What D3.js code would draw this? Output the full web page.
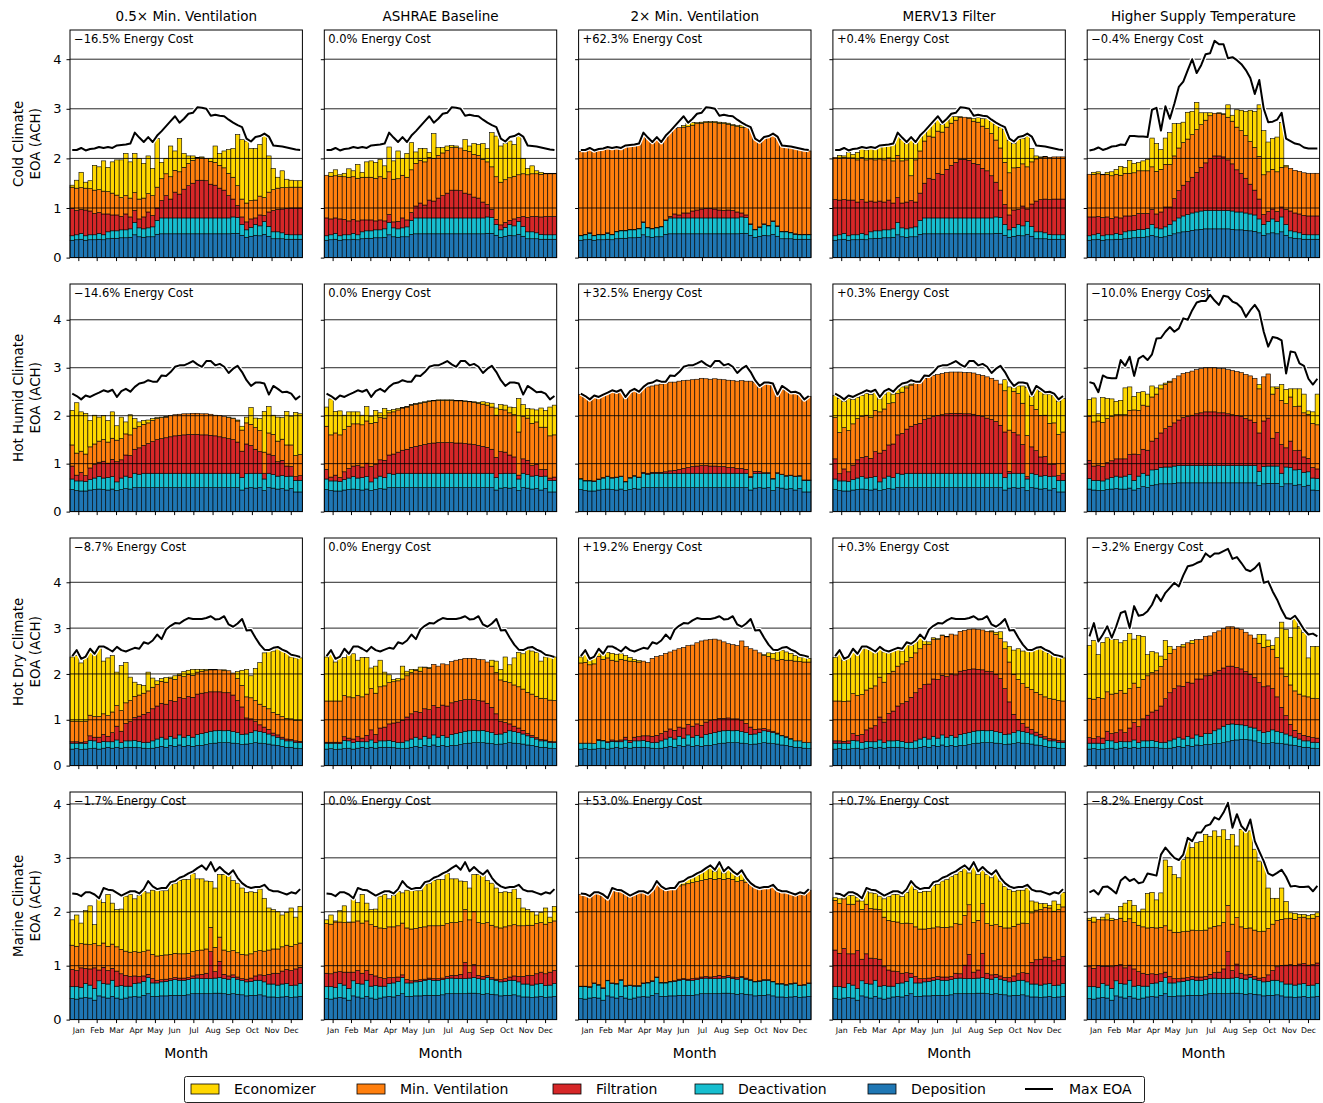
<!DOCTYPE html>
<html lang="en">
<head>
<meta charset="utf-8">
<title>Equivalent outdoor air by climate and strategy</title>
<script src="https://cdn.jsdelivr.net/npm/d3@7"></script>
<style>
  body { margin: 0; background: #fff; }
  svg text { font-family: "DejaVu Sans", sans-serif; fill: #000; }
</style>
</head>
<body>
<svg id="chart" width="1323" height="1103"></svg>
<script>
// weekly EOA components, in hundredths of ACH (52 weeks each)

const scenarios = ['0.5\u00d7 Min. Ventilation', 'ASHRAE Baseline', '2\u00d7 Min. Ventilation', 'MERV13 Filter', 'Higher Supply Temperature'];
const climates = ['Cold Climate', 'Hot Humid Climate', 'Hot Dry Climate', 'Marine Climate'];
const months = ['Jan','Feb','Mar','Apr','May','Jun','Jul','Aug','Sep','Oct','Nov','Dec'];
const monthTicks = [1.86, 5.97, 10.3, 14.7, 19.0, 23.3, 27.6, 31.9, 36.3, 40.7, 45.1, 49.4]; // in weeks
const yTicks = [0, 1, 2, 3, 4];

const costCold   = ['\u221216.5%', '0.0%', '+62.3%', '+0.4%', '\u22120.4%'];
const costHumid  = ['\u221214.6%', '0.0%', '+32.5%', '+0.3%', '\u221210.0%'];
const costDry    = ['\u22128.7%', '0.0%', '+19.2%', '+0.3%', '\u22123.2%'];
const costMarine = ['\u22121.7%', '0.0%', '+53.0%', '+0.7%', '\u22128.2%'];

// ---------- cold ----------
const depCold = [35,36,37,35,36,36,37,36,38,39,39,40,40,41,46,42,41,42,42,47,48,48,48,48,48,48,48,48,48,48,48,48,48,48,48,48,49,49,45,41,43,45,44,47,43,38,38,38,37,37,37,37];
const deactCold = [9,10,12,9,10,10,12,10,14,15,15,16,16,17,25,18,17,18,20,28,32,32,32,32,32,32,32,32,32,32,32,32,32,32,32,32,33,32,22,15,18,22,20,26,20,14,14,12,10,9,9,9];
const maxCold = [217,217,221,216,219,220,223,221,223,221,226,227,228,230,252,242,233,243,233,246,255,265,275,285,272,280,290,292,303,302,300,286,288,286,285,278,272,267,263,240,234,243,245,250,244,226,225,224,222,220,218,217];

const filtCold05 = [55,49,48,52,48,43,42,42,36,32,32,27,32,24,24,18,24,32,23,25,35,45,38,52,48,58,65,70,76,76,75,68,66,60,56,45,36,24,15,16,17,13,22,12,29,43,45,48,52,54,54,54];
const mvCold05 = [43,45,44,44,45,47,46,46,45,44,40,38,37,38,36,40,38,37,40,42,44,44,45,44,45,44,45,46,45,45,45,46,46,46,45,45,44,40,36,38,37,36,38,36,40,42,43,43,42,42,42,42];
const econCold05 = [4,16,31,12,16,50,46,61,49,63,71,76,85,73,79,82,70,76,55,98,33,31,62,39,67,28,15,9,1,2,0,6,33,24,34,48,58,103,120,125,105,104,104,129,73,43,22,34,17,14,13,13];

const filtCold1 = [36,32,31,34,31,28,28,28,24,22,22,18,20,16,16,12,15,20,14,16,24,30,26,36,34,40,45,50,56,56,55,50,48,42,40,32,25,16,10,10,10,8,14,8,20,29,31,33,35,37,37,37];
const mvCold1 = [86,86,85,86,86,88,86,86,86,86,86,86,87,86,86,86,86,86,86,86,86,86,87,86,86,86,86,86,86,86,86,86,86,86,86,86,86,86,86,86,86,86,86,86,86,86,86,86,86,86,86,86];
const econCold1 = [0,8,12,3,7,17,12,28,10,31,33,32,35,25,50,37,56,34,48,55,23,24,27,10,50,16,11,9,4,3,0,22,11,22,22,32,27,69,82,73,73,74,64,78,31,13,16,6,4,1,1,1];

const filtCold2 = [1,1,1,1,1,1,1,1,1,1,1,1,1,1,1,1,1,1,1,1,3,8,6,10,10,14,16,18,19,19,18,16,15,16,15,12,8,5,1,1,1,1,1,1,1,1,1,1,1,1,1,1];
const mvCold2 = [169,168,168,169,170,171,171,172,168,164,169,168,169,169,178,179,172,179,168,168,169,172,176,173,174,173,174,173,173,173,174,175,175,173,171,172,173,176,192,181,170,173,178,174,178,171,170,171,172,171,169,168];
const econCold2 = [0,0,0,0,0,0,0,0,0,0,0,0,0,0,0,0,0,0,0,0,0,0,0,3,6,5,2,2,2,2,2,2,2,2,2,2,4,3,0,0,0,0,0,0,0,0,0,0,0,0,0,0];

const filtColdM = [73,70,68,72,70,66,68,66,62,58,60,56,60,52,50,50,54,55,50,55,70,80,78,90,88,98,106,112,118,118,116,110,108,100,95,85,70,55,40,30,35,30,40,25,45,62,65,68,70,72,72,72];
const mvColdM = [85,85,85,85,85,85,85,85,85,85,85,85,85,85,85,85,85,50,85,85,85,85,85,85,85,85,85,85,85,85,85,85,85,85,85,85,85,85,85,85,85,85,85,85,85,85,85,85,85,85,85,85];
const econColdM = [0,5,3,11,7,15,18,20,21,21,23,27,25,33,41,43,33,75,33,29,17,17,27,25,15,13,13,7,1,0,1,5,9,15,20,24,31,42,66,65,49,56,51,62,27,6,1,1,0,0,0,0];

const depColdH = [35,36,37,35,36,36,37,37,38,39,40,41,41,42,45,42,41,42,45,48,50,52,53,55,56,57,58,58,58,58,58,58,57,56,56,55,54,53,50,45,48,50,48,52,45,40,39,38,37,37,37,37];
const deactColdH = [9,10,12,9,10,10,12,10,14,15,15,16,16,17,22,18,17,20,22,26,30,32,34,35,36,37,37,37,37,37,37,37,37,36,36,35,34,33,28,22,25,28,25,30,22,14,13,12,10,9,9,9];
const filtColdH = [38,36,34,37,36,33,33,33,32,30,30,32,32,30,30,28,34,40,35,45,55,62,66,72,80,88,96,105,110,110,108,102,95,85,78,70,60,50,40,20,20,20,20,20,30,40,38,38,38,38,38,38];
const mvColdH = [86,86,86,86,86,86,86,86,86,86,86,86,86,86,86,86,86,86,86,86,86,86,86,86,86,86,86,86,86,86,86,86,86,86,86,86,86,86,86,80,80,80,80,80,86,86,86,86,86,86,86,86];
const econColdH = [0,4,4,1,4,8,10,18,12,26,19,17,20,23,58,56,40,53,64,65,49,41,54,47,55,24,15,6,0,1,1,25,12,35,41,49,63,73,104,89,60,62,70,90,3,0,0,0,0,0,0,0];
const maxColdH = [216,218,222,217,220,224,225,228,227,245,245,244,244,243,298,302,256,305,280,310,344,355,378,400,372,388,410,412,437,430,430,402,404,398,390,378,362,330,358,300,273,274,278,292,240,235,230,228,222,220,220,220];

// ---------- hot humid ----------
const depHumid = [46,44,43,43,45,46,47,46,45,47,44,46,48,47,50,50,50,50,50,50,50,50,50,50,50,50,50,50,50,50,50,50,50,50,50,50,50,50,45,49,50,49,50,44,50,49,47,48,45,48,41,41];
const deactHumid = [22,20,21,20,22,24,26,24,26,26,18,24,26,24,30,28,30,30,30,30,30,30,30,30,30,30,30,30,30,30,30,30,30,30,30,30,30,30,26,30,30,31,30,24,30,28,27,27,28,26,24,24];
const maxHumid = [246,241,234,242,239,244,248,253,250,254,239,251,256,250,260,267,269,274,271,271,284,283,291,302,305,305,309,314,307,302,314,314,305,308,302,289,298,304,291,274,262,269,269,267,244,262,256,249,250,246,234,241];

const filtHumid05 = [27,12,18,12,24,28,30,35,30,36,42,38,44,46,50,55,58,62,66,70,72,74,76,78,79,80,81,81,81,80,80,79,78,76,74,72,70,65,55,62,58,50,45,12,40,40,30,32,22,20,8,10];
const mvHumid05 = [44,46,44,45,44,43,44,45,44,44,45,44,44,43,44,44,44,43,44,44,44,43,44,44,44,44,43,44,44,44,44,44,43,44,44,44,44,44,44,44,44,45,44,44,44,44,43,44,44,45,44,44];
const econHumid05 = [72,105,82,85,55,60,50,50,45,55,30,45,25,42,20,10,8,6,4,2,1,1,0,0,0,0,0,0,0,0,0,0,0,0,0,1,1,2,8,12,35,20,25,85,55,40,50,45,70,60,90,85];

const filtHumid1 = [20,8,12,8,16,20,22,26,22,28,32,28,34,36,38,42,44,48,50,54,56,58,60,62,63,64,64,64,64,63,63,62,61,60,58,56,54,50,42,46,44,38,34,8,30,30,22,24,15,14,5,7];
const mvHumid1 = [90,88,88,89,88,88,88,87,88,88,90,88,88,88,88,88,88,88,88,88,88,88,88,88,88,88,88,88,88,88,88,88,88,88,88,88,88,88,88,88,88,88,88,90,88,88,88,88,88,88,88,88];
const econHumid1 = [40,75,45,50,30,30,25,25,20,30,15,25,10,20,5,5,3,1,1,1,1,1,1,1,1,1,1,1,1,1,1,1,1,1,2,5,5,8,15,10,10,12,15,70,25,20,30,25,40,35,60,62];

const filtHumid2 = [1,1,1,1,1,1,1,1,1,1,1,1,1,1,2,2,2,2,2,3,5,6,8,10,12,14,15,16,16,15,15,14,14,12,12,10,10,8,2,5,4,1,1,1,1,1,1,1,1,1,1,1];
const mvHumid2 = [175,175,169,176,170,171,172,179,176,178,175,179,179,178,176,180,180,182,184,185,185,184,184,183,182,181,181,182,181,181,182,182,181,182,181,182,183,184,199,186,176,186,186,196,161,182,179,172,174,170,166,174];
const econHumid2 = [0,0,0,0,0,0,0,0,0,0,0,0,0,0,0,0,0,0,0,0,0,0,0,0,0,0,0,0,0,0,0,0,0,0,0,0,0,0,0,0,0,0,0,0,0,0,0,0,0,0,0,0];

const filtHumidM = [42,15,25,20,30,38,40,45,40,52,60,58,65,70,80,85,92,98,102,104,112,115,118,120,122,124,125,125,125,124,124,123,120,118,115,112,108,100,95,5,85,80,60,5,55,50,40,40,25,25,10,15];
const mvHumidM = [86,86,86,86,86,86,86,86,86,86,86,86,86,86,86,86,86,86,86,86,86,86,86,86,86,86,86,86,86,86,86,86,86,86,86,86,86,86,86,86,86,86,86,86,86,86,86,86,86,86,86,86];
const econHumidM = [46,71,55,67,51,44,43,45,47,37,27,31,25,18,8,11,4,2,1,0,0,0,0,0,0,0,0,0,0,0,0,0,0,0,0,0,0,0,23,90,7,16,36,100,19,42,50,44,61,57,69,70];

const depHumidH = [47,45,44,44,46,47,48,47,47,49,45,48,52,50,55,56,58,58,58,59,60,60,60,60,60,60,60,60,60,60,60,60,60,60,60,60,60,60,54,58,59,59,59,52,58,58,55,56,52,55,45,44];
const deactHumidH = [22,20,21,20,22,24,26,25,27,28,20,26,28,26,32,32,34,35,35,36,36,36,36,36,36,36,36,36,36,36,36,36,36,36,36,36,36,36,30,36,36,36,36,28,35,34,32,32,30,28,25,25];
const filtHumidH = [38,30,32,30,34,35,36,38,36,42,55,45,50,52,60,65,72,80,85,90,95,100,102,105,108,110,112,112,112,110,110,108,106,104,102,98,95,90,80,95,100,58,70,60,40,55,40,40,32,28,22,20];
const mvHumidH = [92,92,92,92,92,92,92,92,92,92,92,92,92,92,92,92,92,92,92,92,92,92,92,92,92,92,92,92,92,92,92,92,92,92,92,92,92,92,92,92,92,92,92,92,92,92,92,92,92,92,92,92];
const econHumidH = [35,50,15,52,42,37,28,30,56,49,28,37,28,25,23,13,8,3,2,0,0,0,0,0,0,0,0,0,0,0,0,0,0,0,0,0,0,0,9,0,0,15,3,33,30,17,37,36,39,7,24,64];
const maxHumidH = [270,267,249,284,279,278,278,316,304,323,283,319,325,316,328,361,362,375,385,375,382,403,400,420,436,439,439,452,440,431,450,448,438,434,425,406,420,431,417,375,344,364,362,357,288,334,332,309,304,277,265,277];

// ---------- hot dry ----------
const depDry = [36,37,35,36,37,38,36,38,40,38,40,38,40,40,40,39,38,37,38,40,42,40,44,42,45,42,44,42,44,44,46,48,49,50,50,50,49,48,46,47,48,50,49,48,47,45,44,42,40,40,38,37];
const deactDry = [13,12,14,12,18,16,14,15,12,14,16,12,14,14,15,14,12,14,16,18,20,18,20,18,22,20,22,20,24,26,26,27,27,27,26,27,25,24,22,22,24,26,25,24,22,20,18,16,14,14,13,13];
const maxDry = [239,252,233,238,255,244,260,260,255,249,259,252,249,253,257,255,269,266,273,286,276,297,305,311,310,317,322,320,320,320,322,326,319,320,326,308,303,310,320,295,296,279,264,253,252,257,259,253,249,242,240,237];

const filtDry05 = [3,3,2,4,10,8,12,15,12,20,30,25,38,42,50,55,62,65,70,72,74,76,78,80,82,84,85,87,88,88,87,86,85,84,83,82,80,70,60,35,30,20,15,12,10,6,5,4,4,3,3,3];
const mvDry05 = [45,45,45,45,45,45,45,45,45,45,45,45,45,46,46,46,46,47,47,47,48,48,48,48,48,48,48,48,48,48,48,48,48,48,48,48,48,48,47,46,46,46,45,45,45,45,45,45,45,45,45,45];
const econDry05 = [140,143,128,138,140,136,150,115,126,123,73,98,88,51,31,23,17,41,20,8,6,10,3,8,3,11,9,13,6,4,3,1,1,0,2,0,0,15,33,60,48,70,91,117,127,134,145,144,143,135,136,137];

const filtDry1 = [2,2,2,3,8,6,8,10,8,14,22,18,28,30,36,40,45,48,52,55,56,58,60,62,64,65,66,68,69,70,70,69,68,67,66,64,62,55,45,28,22,15,12,10,8,5,4,3,3,2,2,2];
const mvDry1 = [90,90,90,90,90,90,90,90,90,90,90,90,90,90,90,90,90,90,90,90,90,90,90,90,90,90,90,90,90,90,90,90,90,90,90,90,90,90,90,90,90,90,90,90,90,90,90,90,90,90,90,90];
const econDry1 = [96,106,85,95,83,93,96,77,86,80,45,59,58,30,17,5,5,28,10,7,2,9,1,2,0,0,0,0,0,0,0,0,0,0,0,0,0,13,25,23,53,39,59,75,77,93,94,96,81,91,94,95];

const filtDry2 = [0,0,0,0,2,1,2,3,2,4,6,5,8,9,10,12,14,15,16,17,18,19,20,22,23,24,25,26,27,28,28,28,27,27,26,25,24,20,16,10,8,5,4,3,2,1,1,1,0,0,0,0];
const mvDry2 = [175,176,171,174,181,177,183,174,174,176,168,173,165,163,163,160,170,172,170,170,168,175,171,176,172,177,177,184,179,177,176,171,167,162,162,160,174,168,171,173,166,159,160,158,159,166,167,171,174,173,175,176];
const econDry2 = [13,25,10,15,12,10,12,15,15,12,10,8,5,3,0,0,0,0,0,0,0,0,0,0,0,0,0,0,0,0,0,0,0,0,0,0,0,0,0,0,0,2,8,12,18,20,18,15,12,10,10,8];

const filtDryM = [5,5,4,6,15,12,18,25,30,35,50,45,60,65,75,82,90,98,105,110,115,120,125,128,130,132,134,136,138,138,138,136,134,132,130,128,125,118,100,70,40,25,18,12,10,8,6,5,5,4,4,4];
const mvDryM = [87,87,87,87,87,87,87,87,87,87,87,87,87,87,87,87,87,87,87,87,87,87,87,87,87,87,87,87,87,87,87,87,87,87,87,87,87,87,87,87,87,87,87,87,87,87,87,87,87,87,87,87];
const econDryM = [95,107,90,94,95,89,102,92,83,72,62,66,45,44,36,28,38,26,24,25,8,5,3,2,1,1,0,0,0,0,0,0,0,0,0,2,5,15,15,34,53,67,71,80,84,96,100,100,99,95,96,94];

const depDryH = [36,37,35,36,37,38,36,38,40,38,40,38,40,40,40,39,38,37,38,40,42,40,44,42,45,44,46,46,48,48,50,52,55,56,57,57,56,54,50,48,48,50,49,48,47,45,44,42,40,40,38,37];
const deactDryH = [13,12,14,12,18,16,14,15,12,14,16,12,14,14,15,14,12,14,16,18,20,18,20,18,22,20,24,24,28,32,36,38,36,34,32,30,28,28,26,24,26,28,26,24,22,20,18,16,14,14,13,13];
const filtDryH = [12,10,14,12,20,16,22,25,20,30,38,35,48,56,62,68,80,95,105,110,112,115,118,120,122,125,126,127,128,128,127,127,126,124,122,118,115,110,105,100,100,90,75,55,40,25,15,12,12,10,10,10];
const mvDryH = [86,86,86,86,86,86,86,86,86,86,86,86,86,86,86,86,86,86,86,86,86,86,86,86,86,86,86,86,86,86,86,86,86,86,86,86,86,86,86,86,86,86,86,86,86,86,86,86,86,86,86,86];
const econDryH = [115,128,93,123,118,119,117,104,115,120,96,113,94,46,46,39,23,41,15,0,0,5,0,7,0,0,0,0,0,0,0,0,0,0,0,0,0,0,19,28,14,8,43,100,102,104,157,148,138,85,113,114];
const maxDryH = [282,311,271,286,304,279,304,333,337,300,348,327,329,337,351,373,359,377,388,399,391,415,435,437,442,446,463,455,463,463,468,473,451,455,442,428,424,431,442,399,402,380,362,340,322,320,327,313,297,286,288,282];

// ---------- marine ----------
const depMarine = [39,38,40,41,40,36,44,42,40,43,40,38,40,42,43,42,45,48,43,43,44,44,45,45,45,45,46,48,48,48,48,48,49,49,48,47,48,47,46,44,45,45,46,44,42,42,41,42,43,41,42,43];
const deactMarine = [22,23,20,26,24,22,28,25,26,30,22,25,22,20,24,26,26,30,25,25,26,27,28,29,28,28,28,28,29,28,28,28,28,29,28,28,30,28,27,26,26,28,27,26,24,24,23,24,24,22,22,24];
const maxMarine = [234,233,229,236,236,232,225,244,241,240,235,230,234,238,238,234,242,257,247,242,244,244,255,257,263,266,271,275,281,286,278,292,275,283,275,269,277,263,253,247,244,246,246,250,241,238,238,235,232,236,234,242];

const filtMarine05 = [32,30,36,28,30,38,20,30,25,22,28,22,20,18,14,12,10,6,8,5,4,4,3,4,4,4,4,5,6,8,10,50,12,30,8,6,5,4,3,5,6,8,10,12,18,20,22,24,26,28,30,30];
const mvMarine05 = [45,45,45,45,45,45,45,45,45,45,45,45,45,45,45,45,45,45,45,45,45,45,45,45,45,45,45,45,45,45,45,45,45,45,45,45,45,45,45,45,45,45,45,45,45,45,45,45,45,45,45,45];
const econMarine05 = [47,58,38,62,72,35,87,75,96,76,69,75,102,107,98,105,112,106,119,121,120,119,129,129,136,138,137,145,133,132,126,85,110,116,140,141,130,129,123,116,115,110,114,98,78,73,69,59,61,71,51,68];

const filtMarine1 = [25,24,28,22,24,30,16,24,20,18,22,18,16,14,11,10,8,5,6,4,3,3,2,3,3,3,3,4,5,6,8,30,10,24,6,5,4,3,2,4,5,6,8,10,14,16,18,19,21,22,24,24];
const mvMarine1 = [92,92,93,92,92,92,93,92,93,92,92,92,92,93,94,94,95,96,96,96,96,97,97,97,98,98,98,98,98,98,98,98,98,98,98,98,98,97,97,96,96,95,95,94,94,93,93,93,92,92,92,92];
const econMarine1 = [7,17,2,21,31,1,43,34,53,33,28,32,59,63,52,58,64,56,70,71,70,68,78,78,84,86,85,93,81,81,75,52,59,69,89,89,78,78,72,66,65,62,66,51,33,29,25,16,19,30,10,27];

const filtMarine2 = [1,1,1,1,1,1,1,1,1,1,1,1,1,1,1,1,1,1,1,1,1,1,2,2,2,3,3,3,3,3,4,6,3,4,3,3,2,2,1,1,1,1,1,1,1,1,1,1,1,1,1,1];
const mvMarine2 = [170,169,166,166,169,171,151,174,172,164,170,164,169,173,168,163,168,176,176,171,171,170,173,174,177,178,179,179,180,183,180,180,180,180,181,178,178,178,176,174,170,170,170,177,172,169,171,166,162,170,167,172];
const econMarine2 = [0,0,0,0,0,0,0,0,0,0,0,0,0,0,0,0,0,0,0,0,0,2,7,7,10,10,12,15,18,20,15,25,12,18,12,10,15,5,2,0,0,0,0,0,0,0,0,0,0,0,0,0];

const filtMarineM = [68,62,72,55,58,70,40,55,48,40,50,35,30,28,22,18,16,8,12,8,6,6,5,6,6,6,6,10,8,25,45,12,15,45,10,8,6,6,5,8,10,12,14,16,40,45,48,50,48,46,48,50];
const mvMarineM = [92,92,92,92,92,92,92,92,92,92,92,92,92,92,92,92,92,92,92,92,92,92,92,92,92,92,92,92,92,92,92,92,92,92,92,92,92,92,92,92,92,92,92,92,92,92,92,92,92,92,92,92];
const econMarineM = [5,9,2,16,16,6,16,24,29,29,25,34,44,50,51,50,57,73,69,68,70,69,79,79,86,89,93,91,98,87,59,106,85,62,91,88,95,84,77,71,65,63,61,66,22,15,11,7,5,19,10,27];

const filtMarineH = [37,34,40,32,35,40,28,35,30,28,32,26,24,22,18,16,14,10,12,8,6,6,5,6,6,6,6,8,10,12,18,50,14,25,10,8,6,5,4,8,12,18,25,30,35,36,36,37,37,38,38,38];
const mvMarineH = [86,86,86,86,86,86,86,86,86,86,86,86,86,86,86,86,86,86,86,86,86,86,86,86,86,86,86,86,86,86,86,86,86,86,86,86,86,86,86,86,86,86,86,86,86,86,86,86,86,86,86,86];
const econMarineH = [4,9,0,5,11,4,0,22,34,34,32,25,33,64,65,52,64,122,118,107,101,134,171,153,163,165,177,170,177,166,172,122,166,133,181,181,180,150,131,128,75,48,41,58,32,10,11,6,5,6,7,7];
const maxMarineH = [236,240,232,246,247,241,234,258,265,257,261,253,255,271,269,267,306,319,309,300,296,306,337,331,347,347,359,362,375,371,384,402,356,381,359,350,371,331,312,294,271,267,272,278,265,247,248,246,246,247,238,248];

// ---------- panel table (rows = climates, columns = scenarios) ----------
const grid = [
  [
    {dep: depCold, deact: deactCold, filt: filtCold05, mv: mvCold05, econ: econCold05, max: maxCold, cost: costCold[0]},
    {dep: depCold, deact: deactCold, filt: filtCold1, mv: mvCold1, econ: econCold1, max: maxCold, cost: costCold[1]},
    {dep: depCold, deact: deactCold, filt: filtCold2, mv: mvCold2, econ: econCold2, max: maxCold, cost: costCold[2]},
    {dep: depCold, deact: deactCold, filt: filtColdM, mv: mvColdM, econ: econColdM, max: maxCold, cost: costCold[3]},
    {dep: depColdH, deact: deactColdH, filt: filtColdH, mv: mvColdH, econ: econColdH, max: maxColdH, cost: costCold[4]}
  ],
  [
    {dep: depHumid, deact: deactHumid, filt: filtHumid05, mv: mvHumid05, econ: econHumid05, max: maxHumid, cost: costHumid[0]},
    {dep: depHumid, deact: deactHumid, filt: filtHumid1, mv: mvHumid1, econ: econHumid1, max: maxHumid, cost: costHumid[1]},
    {dep: depHumid, deact: deactHumid, filt: filtHumid2, mv: mvHumid2, econ: econHumid2, max: maxHumid, cost: costHumid[2]},
    {dep: depHumid, deact: deactHumid, filt: filtHumidM, mv: mvHumidM, econ: econHumidM, max: maxHumid, cost: costHumid[3]},
    {dep: depHumidH, deact: deactHumidH, filt: filtHumidH, mv: mvHumidH, econ: econHumidH, max: maxHumidH, cost: costHumid[4]}
  ],
  [
    {dep: depDry, deact: deactDry, filt: filtDry05, mv: mvDry05, econ: econDry05, max: maxDry, cost: costDry[0]},
    {dep: depDry, deact: deactDry, filt: filtDry1, mv: mvDry1, econ: econDry1, max: maxDry, cost: costDry[1]},
    {dep: depDry, deact: deactDry, filt: filtDry2, mv: mvDry2, econ: econDry2, max: maxDry, cost: costDry[2]},
    {dep: depDry, deact: deactDry, filt: filtDryM, mv: mvDryM, econ: econDryM, max: maxDry, cost: costDry[3]},
    {dep: depDryH, deact: deactDryH, filt: filtDryH, mv: mvDryH, econ: econDryH, max: maxDryH, cost: costDry[4]}
  ],
  [
    {dep: depMarine, deact: deactMarine, filt: filtMarine05, mv: mvMarine05, econ: econMarine05, max: maxMarine, cost: costMarine[0]},
    {dep: depMarine, deact: deactMarine, filt: filtMarine1, mv: mvMarine1, econ: econMarine1, max: maxMarine, cost: costMarine[1]},
    {dep: depMarine, deact: deactMarine, filt: filtMarine2, mv: mvMarine2, econ: econMarine2, max: maxMarine, cost: costMarine[2]},
    {dep: depMarine, deact: deactMarine, filt: filtMarineM, mv: mvMarineM, econ: econMarineM, max: maxMarine, cost: costMarine[3]},
    {dep: depMarine, deact: deactMarine, filt: filtMarineH, mv: mvMarineH, econ: econMarineH, max: maxMarineH, cost: costMarine[4]}
  ]
];

const layerKeys = ['deposition', 'deactivation', 'filtration', 'minVent', 'economizer'];
const colors = {
  economizer: '#ffd700',
  minVent: '#ff7f0e',
  filtration: '#d62728',
  deactivation: '#17becf',
  deposition: '#1f77b4'
};

// ---------- layout ----------
const W = 1323, H = 1103;
const left0 = 70, colStep = 254.3, panelW = 232.4;
const top0 = 30, rowStep = 254, panelH = 227.6;
const font = 'DejaVu Sans';

const svg = d3.select('#chart');
svg.append('rect').attr('width', W).attr('height', H).attr('fill', '#fff');

const x = d3.scaleLinear().domain([0, 52]).range([0, panelW]);
const stack = d3.stack().keys(layerKeys);
const line = y => d3.line().x((d, i) => x(i + 0.5)).y(d => y(d / 100));

grid.forEach((row, r) => {
  const tables = row.map(p => p.dep.map((v, i) => ({
    deposition: v / 100,
    deactivation: p.deact[i] / 100,
    filtration: p.filt[i] / 100,
    minVent: p.mv[i] / 100,
    economizer: p.econ[i] / 100
  })));
  const rowMax = d3.max(row.map((p, c) => Math.max(
    d3.max(p.max) / 100,
    d3.max(tables[c], d => layerKeys.reduce((s, k) => s + d[k], 0))
  )));
  const y = d3.scaleLinear().domain([0, rowMax * 1.05]).range([panelH, 0]);

  row.forEach((p, c) => {
    const g = svg.append('g')
      .attr('transform', `translate(${left0 + c * colStep},${top0 + r * rowStep})`);

    // stacked weekly bars
    g.append('g').selectAll('g')
      .data(stack(tables[c]))
      .join('g')
        .attr('fill', d => colors[d.key])
      .selectAll('rect')
      .data(d => d)
      .join('rect')
        .attr('x', (d, i) => x(i))
        .attr('width', x(1) - x(0))
        .attr('y', d => y(d[1]))
        .attr('height', d => y(d[0]) - y(d[1]))
        .attr('stroke', '#000')
        .attr('stroke-width', 0.6);

    // horizontal grid lines over the bars
    g.append('g').selectAll('line')
      .data(yTicks.filter(t => t > 0))
      .join('line')
        .attr('x1', 0).attr('x2', panelW)
        .attr('y1', d => y(d)).attr('y2', d => y(d))
        .attr('stroke', '#000')
        .attr('stroke-opacity', 0.85)
        .attr('stroke-width', 1);

    // max EOA line with white halo
    g.append('path').datum(p.max)
      .attr('d', line(y))
      .attr('fill', 'none').attr('stroke', '#fff')
      .attr('stroke-width', 4.5).attr('stroke-linejoin', 'round');
    g.append('path').datum(p.max)
      .attr('d', line(y))
      .attr('fill', 'none').attr('stroke', '#000')
      .attr('stroke-width', 2).attr('stroke-linejoin', 'round');

    // frame
    g.append('rect')
      .attr('width', panelW).attr('height', panelH)
      .attr('fill', 'none').attr('stroke', '#000').attr('stroke-width', 1);

    // y axis
    const yAxis = d3.axisLeft(y).tickValues(yTicks).tickSize(3.5).tickPadding(5)
      .tickFormat(c > 0 ? '' : d3.format('d'));
    g.append('g').call(yAxis)
      .call(s => s.select('.domain').remove())
      .call(s => s.selectAll('text').attr('font-family', font).attr('font-size', 13));

    // x axis (month ticks)
    const xAxis = d3.axisBottom(x).tickValues(monthTicks).tickSize(3.5).tickPadding(4);
    xAxis.tickFormat((d, i) => r === grid.length - 1 ? months[i] : '');
    g.append('g').attr('transform', `translate(0,${panelH})`).call(xAxis)
      .call(s => s.select('.domain').remove())
      .call(s => s.selectAll('text').attr('font-family', font).attr('font-size', 7.8));

    // energy cost note
    g.append('text')
      .attr('x', 4).attr('y', 12.5)
      .attr('font-size', 11.5)
      .text(p.cost + ' Energy Cost');

    if (r === 0) {
      g.append('text')
        .attr('x', panelW / 2).attr('y', -9)
        .attr('text-anchor', 'middle')
        .attr('font-size', 13.5)
        .text(scenarios[c]);
    }
    if (r === grid.length - 1) {
      g.append('text')
        .attr('x', panelW / 2).attr('y', panelH + 38)
        .attr('text-anchor', 'middle')
        .attr('font-size', 14)
        .text('Month');
    }
  });

  // row label
  const cy = top0 + r * rowStep + panelH / 2;
  const lab = svg.append('text')
    .attr('transform', `translate(23,${cy}) rotate(-90)`)
    .attr('text-anchor', 'middle')
    .attr('font-size', 13.5);
  lab.append('tspan').attr('x', 0).attr('dy', 0).text(climates[r]);
  lab.append('tspan').attr('x', 0).attr('dy', 17).text('EOA (ACH)');
});

// ---------- legend ----------
const legendItems = [
  {label: 'Economizer', key: 'economizer', tx: 234},
  {label: 'Min. Ventilation', key: 'minVent', tx: 400},
  {label: 'Filtration', key: 'filtration', tx: 596},
  {label: 'Deactivation', key: 'deactivation', tx: 738},
  {label: 'Deposition', key: 'deposition', tx: 911},
  {label: 'Max EOA', key: null, tx: 1069}
];
const lg = svg.append('g');
lg.append('rect')
  .attr('x', 184.5).attr('y', 1076.5).attr('width', 960).attr('height', 26)
  .attr('rx', 2).attr('fill', '#fff').attr('stroke', '#222').attr('stroke-width', 1);
legendItems.forEach(it => {
  if (it.key) {
    lg.append('rect')
      .attr('x', it.tx - 43).attr('y', 1084).attr('width', 28).attr('height', 10)
      .attr('fill', colors[it.key]).attr('stroke', '#000').attr('stroke-width', 0.8);
  } else {
    lg.append('line')
      .attr('x1', it.tx - 44).attr('x2', it.tx - 16).attr('y1', 1089).attr('y2', 1089)
      .attr('stroke', '#000').attr('stroke-width', 2);
  }
  lg.append('text')
    .attr('x', it.tx).attr('y', 1094)
    .attr('font-size', 14)
    .text(it.label);
});
</script>
</body>
</html>
